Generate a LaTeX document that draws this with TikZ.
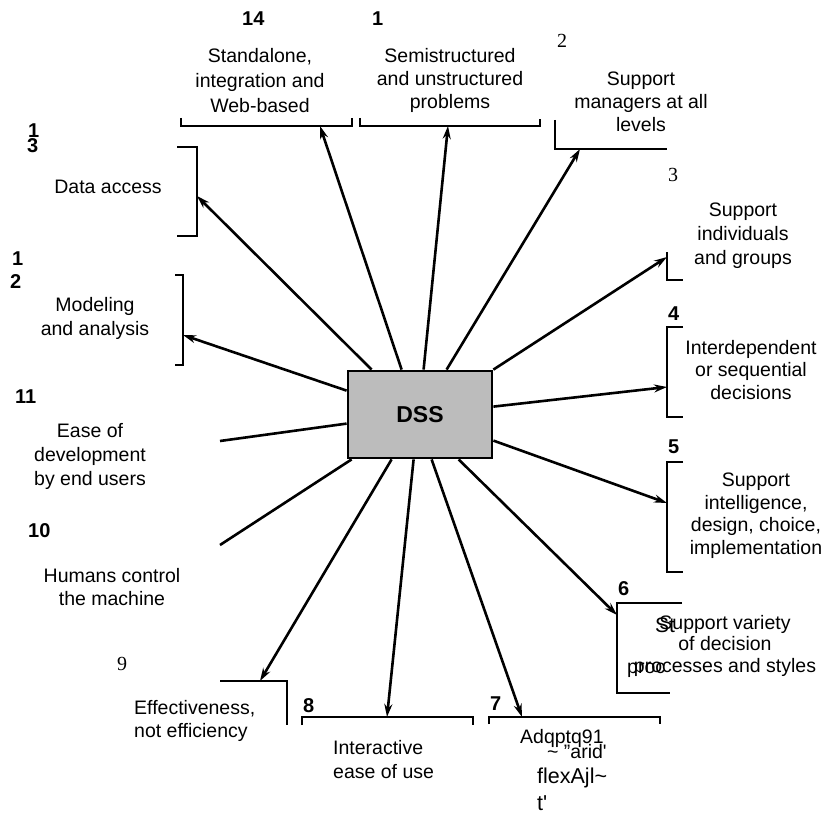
\documentclass[tikz,border=0pt]{standalone}
\usepackage{fontspec}
\setmainfont{Liberation Sans}
\newfontfamily\numserif{Liberation Serif}
\usetikzlibrary{arrows.meta,calc}
\definecolor{dssfill}{RGB}{188,188,188}
\begin{document}
\begin{tikzpicture}[x=1pt,y=-1pt,
  txt/.style={inner sep=0pt, align=center, anchor=north, font=\fontsize{19.5}{23}\selectfont},
  txtl/.style={txt, align=left, anchor=north west},
  plain/.style={inner sep=0pt, anchor=base west, font=\fontsize{19.5}{23}\selectfont},
  num/.style={inner sep=0pt, anchor=base west, font=\fontsize{20}{23}\selectfont\bfseries},
  snum/.style={inner sep=0pt, anchor=base west, font=\fontsize{20}{23}\selectfont\numserif},
  dssbox/.style={draw, line width=2.8pt, fill=dssfill, minimum width=144pt, minimum height=87pt,
    inner sep=0pt, font=\fontsize{23}{23}\selectfont\bfseries},
  conn/.style={line width=2.6pt},
  arr/.style={conn, -{Stealth[length=13pt,width=8pt]}},
  brk/.style={line width=1.2pt}
]
\useasboundingbox (0,0) rectangle (823,816);

% central box
\node[dssbox] (dss) at (420,414.5) {DSS};

% arrow tips on the brackets and free line ends
\coordinate (t14) at (320,126);
\coordinate (t1)  at (448,126);
\coordinate (t2)  at (580,149);
\coordinate (t13) at (197,196);
\coordinate (t12) at (183,335);
\coordinate (t3)  at (667,257);
\coordinate (t4)  at (667,387);
\coordinate (t5)  at (667,503);
\coordinate (t6)  at (617,615);
\coordinate (t7)  at (522,717);
\coordinate (t8)  at (387,717);
\coordinate (t9)  at (260,681);
\coordinate (e10) at (220,545);
\coordinate (e11) at (220,441);

% brackets
\draw[brk] (181,118) -- (181,126) -- (352,126) -- (352,118);
\draw[brk] (360,118) -- (360,126) -- (540,126) -- (540,119);
\draw[brk] (555,120) -- (555,149) -- (667,149);
\draw[brk] (177,147) -- (197,147) -- (197,236) -- (177,236);
\draw[brk] (175,275) -- (183,275) -- (183,365) -- (175,365);
\draw[brk] (667,252) -- (667,280) -- (683,280);
\draw[brk] (683,327) -- (667,327) -- (667,417) -- (683,417);
\draw[brk] (683,462) -- (667,462) -- (667,572) -- (683,572);
\draw[brk] (682,603) -- (617,603) -- (617,693) -- (670,693);
\draw[brk] (489,724) -- (489,717) -- (660,717) -- (660,724);
\draw[brk] (302,725) -- (302,717) -- (473,717) -- (473,725);
\draw[brk] (220,681) -- (287,681) -- (287,725);

% connectors
\draw[arr] ([xshift=55pt]dss.north west) -- (t14);
\draw[arr] ([xshift=77pt]dss.north west) -- (t1);
\draw[arr] ([xshift=100pt]dss.north west) -- (t2);
\draw[arr] ([xshift=25pt]dss.north west) -- (t13);
\draw[arr] ([yshift=-21pt]dss.north west) -- (t12);
\draw[arr] (dss.north east) -- (t3);
\draw[arr] ([yshift=-37pt]dss.north east) -- (t4);
\draw[arr] ([yshift=-71pt]dss.north east) -- (t5);
\draw[arr] ([xshift=112pt]dss.south west) -- (t6);
\draw[arr] ([xshift=85pt]dss.south west) -- (t7);
\draw[arr] ([xshift=67pt]dss.south west) -- (t8);
\draw[arr] ([xshift=45pt]dss.south west) -- (t9);
\draw[conn] ([xshift=5pt]dss.south west) -- (e10);
\draw[conn] ([yshift=-54pt]dss.north west) -- (e11);

% labels
\node[txt, font=\fontsize{19.5}{25}\selectfont] (l14) at (260,48) {Standalone,\\integration and\\Web-based};
\node[txt] (l1) at (450,48) {Semistructured\\and unstructured\\problems};
\node[txt] (l2) at (641,72) {Support\\managers at all\\levels};
\node[txt] (l13) at (108,180) {Data access};
\node[txt, font=\fontsize{19.5}{24}\selectfont] (l3) at (743,203) {Support\\individuals\\and groups};
\node[txt, font=\fontsize{19.5}{24}\selectfont] (l12) at (95,297) {Modeling\\and analysis};
\node[txt, font=\fontsize{19.5}{24}\selectfont] (l11) at (90,423) {Ease of\\development\\by end users};
\node[txt] (l10) at (112,568) {Humans control\\the machine};
\node[txtl] (l9) at (134,700) {Effectiveness,\\not efficiency};
\node[txtl, font=\fontsize{19.5}{24}\selectfont] (l8) at (333,740) {Interactive\\ease of use};
\node[txt, font=\fontsize{19.5}{22.5}\selectfont] (l4) at (751,340) {Interdependent\\or sequential\\decisions};
\node[txt, font=\fontsize{19.5}{22.5}\selectfont] (l5) at (756,473) {Support\\intelligence,\\design, choice,\\implementation};
\node[txt, font=\fontsize{19.5}{21.5}\selectfont] (l6) at (725,615) {Support variety\\of decision\\processes and styles};
\node[plain, font=\fontsize{21}{23}\selectfont] (l6a) at (655,632) {St};
\node[plain] (l6b) at (627,673) {proc};
\node[plain] (l7a) at (520,743) {Adqptq91};
\node[plain] (l7b) at (547,758) {\textasciitilde{} "arid\textquotesingle};
\node[plain, font=\fontsize{21.5}{23}\selectfont] (l7c) at (537,783) {flexAjl\textasciitilde};
\node[plain, font=\fontsize{21.5}{23}\selectfont] (l7d) at (537,810) {t\textquotesingle};

% numbers
\node[num] (n14) at (242,26) {14};
\node[num] (n1) at (372,26) {1};
\node[snum] (n2) at (557,48) {2};
\node[num] (n13a) at (28,137) {1};
\node[num] (n13b) at (27,153) {3};
\node[snum] (n3) at (668,182) {3};
\node[num] (n12a) at (12,265) {1};
\node[num] (n12b) at (10,288) {2};
\node[num] (n4) at (668,320) {4};
\node[num] (n11) at (15,403) {11};
\node[num] (n5) at (668,453) {5};
\node[num] (n10) at (28,537) {10};
\node[num] (n6) at (618,595) {6};
\node[snum] (n9) at (117,670) {9};
\node[num] (n8) at (303,712) {8};
\node[num] (n7) at (490,710) {7};
\end{tikzpicture}
\end{document}
